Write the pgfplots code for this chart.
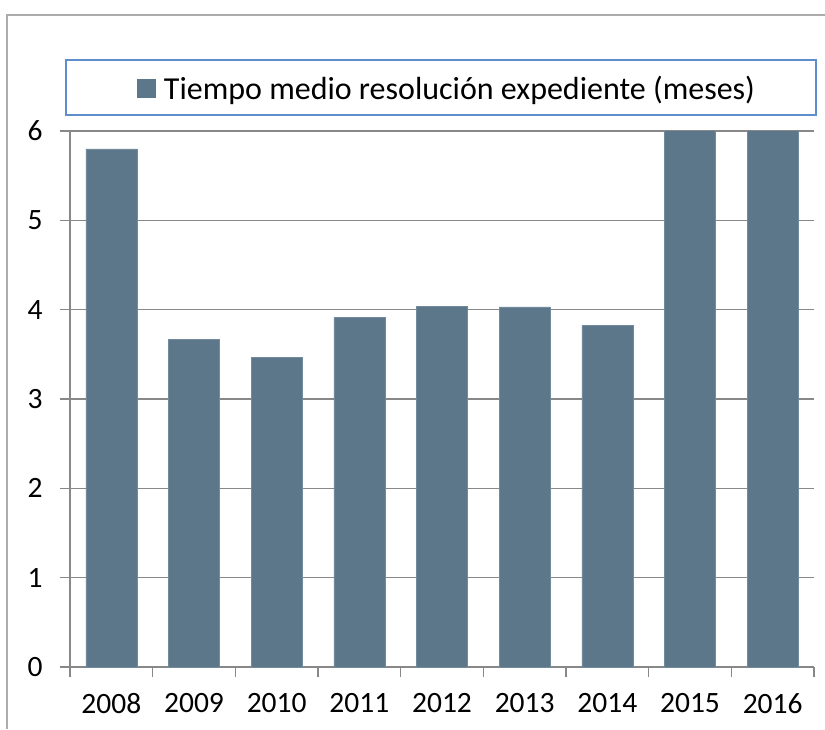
\documentclass[border=0pt]{standalone}
\usepackage{fontspec}
\setmainfont{Carlito}
\usepackage{pgfplots}
\pgfplotsset{compat=1.18}
\definecolor{barc}{HTML}{5B7789}
\definecolor{gridc}{HTML}{888888}
\definecolor{legc}{HTML}{5E8FCC}

\begin{document}
\begin{tikzpicture}
\useasboundingbox (0pt,0pt) rectangle (825pt,729pt);
\draw[gridc!70,line width=1.5pt] (7pt,0pt) -- (7pt,714pt) -- (825pt,714pt);
\draw[legc,line width=1.5pt,fill=white] (66pt,614pt) rectangle (816pt,669pt);
\begin{axis}[at={(70pt,62pt)},anchor=south west,scale only axis,
  width=744pt,height=536pt,
  xmin=-0.5,xmax=8.5,ymin=0,ymax=6,
  ytick={0,...,6},
  xtick={-0.5,0.5,...,8.5},xticklabels={,,,,,,,,,},
  extra x ticks={0,...,8},
  extra x tick labels={2008,2009,2010,2011,2012,2013,2014,2015,2016},
  extra x tick style={major tick length=0pt,grid=none},
  axis x line*=bottom,axis y line*=left,
  axis line style={gridc,line width=1.5pt,-},
  tick style={gridc,line width=1.5pt},
  tick align=outside,major tick length=10pt,
  ymajorgrids,grid style={gridc,line width=1.5pt},
  tick label style={font=\fontsize{29.5}{34}\selectfont,text=black},
  yticklabel style={xshift=-14pt},
  xticklabel style={yshift=-23pt},
  /pgf/number format/assume math mode=true,
  legend style={at={(0.507,1.08)},anchor=center,draw=none,fill=none,
    column sep=6pt,font=\fontsize{32}{40}\selectfont},
  legend image code/.code={\fill[barc] (0pt,-9pt) rectangle (18pt,9pt);},
  ]
\addplot[ybar,bar width=51pt,fill=barc,draw=barc!85!white,line width=0.6pt]
  coordinates {(0,5.80) (1,3.67) (2,3.47) (3,3.91) (4,4.04) (5,4.03) (6,3.82) (7,6.5) (8,6.5)};
\addlegendentry{Tiempo medio resolución expediente (meses)}
\end{axis}
\end{tikzpicture}
\end{document}
